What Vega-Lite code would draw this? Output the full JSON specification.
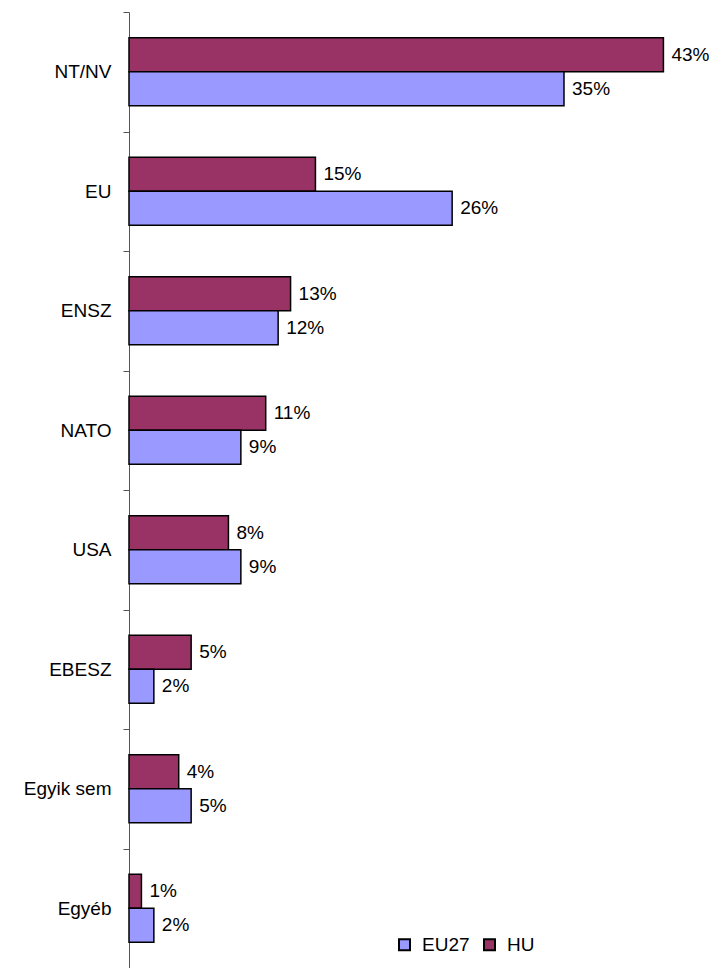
{
  "$schema": "https://vega.github.io/schema/vega-lite/v6.json",
  "autosize": "none",
  "width": 586,
  "height": 956,
  "padding": {"left": 129, "top": 12, "right": 0, "bottom": 0},
  "background": "white",
  "config": {
    "view": {"stroke": null},
    "font": "Liberation Sans",
    "text": {"font": "Liberation Sans"}
  },
  "data": {
    "values": [
      {"cat": "NT/NV", "series": "HU", "value": 0.43},
      {"cat": "NT/NV", "series": "EU27", "value": 0.35},
      {"cat": "EU", "series": "HU", "value": 0.15},
      {"cat": "EU", "series": "EU27", "value": 0.26},
      {"cat": "ENSZ", "series": "HU", "value": 0.13},
      {"cat": "ENSZ", "series": "EU27", "value": 0.12},
      {"cat": "NATO", "series": "HU", "value": 0.11},
      {"cat": "NATO", "series": "EU27", "value": 0.09},
      {"cat": "USA", "series": "HU", "value": 0.08},
      {"cat": "USA", "series": "EU27", "value": 0.09},
      {"cat": "EBESZ", "series": "HU", "value": 0.05},
      {"cat": "EBESZ", "series": "EU27", "value": 0.02},
      {"cat": "Egyik sem", "series": "HU", "value": 0.04},
      {"cat": "Egyik sem", "series": "EU27", "value": 0.05},
      {"cat": "Egyéb", "series": "HU", "value": 0.01},
      {"cat": "Egyéb", "series": "EU27", "value": 0.02}
    ]
  },
  "encoding": {
    "y": {
      "field": "cat",
      "type": "nominal",
      "sort": ["NT/NV", "EU", "ENSZ", "NATO", "USA", "EBESZ", "Egyik sem", "Egyéb"],
      "scale": {"paddingInner": 0, "paddingOuter": 0},
      "axis": {
        "title": null,
        "tickBand": "extent",
        "domainColor": "#555",
        "tickColor": "#555",
        "tickSize": 6,
        "labelPadding": 12,
        "labelFont": "Liberation Sans",
        "labelFontSize": 19,
        "labelColor": "black"
      }
    },
    "yOffset": {
      "field": "series",
      "type": "nominal",
      "sort": ["HU", "EU27"],
      "scale": {"paddingInner": 0, "paddingOuter": 0.759}
    },
    "x": {
      "field": "value",
      "type": "quantitative",
      "scale": {"domain": [0, 0.4715], "nice": false},
      "axis": null
    }
  },
  "layer": [
    {
      "mark": {"type": "bar", "stroke": "black", "strokeWidth": 1.5},
      "encoding": {
        "color": {
          "field": "series",
          "type": "nominal",
          "scale": {"domain": ["EU27", "HU"], "range": ["#9999FF", "#993366"]},
          "legend": {
            "title": null,
            "orient": "none",
            "legendX": 266,
            "legendY": 923,
            "direction": "horizontal",
            "symbolType": "square",
            "symbolSize": 121,
            "symbolStrokeColor": "black",
            "symbolStrokeWidth": 2,
            "symbolOpacity": 1,
            "labelFont": "Liberation Sans",
            "labelFontSize": 19,
            "labelColor": "black",
            "labelOffset": 8,
            "columnPadding": 10,
            "padding": 0
          }
        }
      }
    },
    {
      "mark": {"type": "text", "align": "left", "baseline": "middle", "dx": 8, "fontSize": 19, "font": "Liberation Sans", "color": "black"},
      "encoding": {
        "text": {"field": "value", "type": "quantitative", "format": ".0%"}
      }
    }
  ]
}
